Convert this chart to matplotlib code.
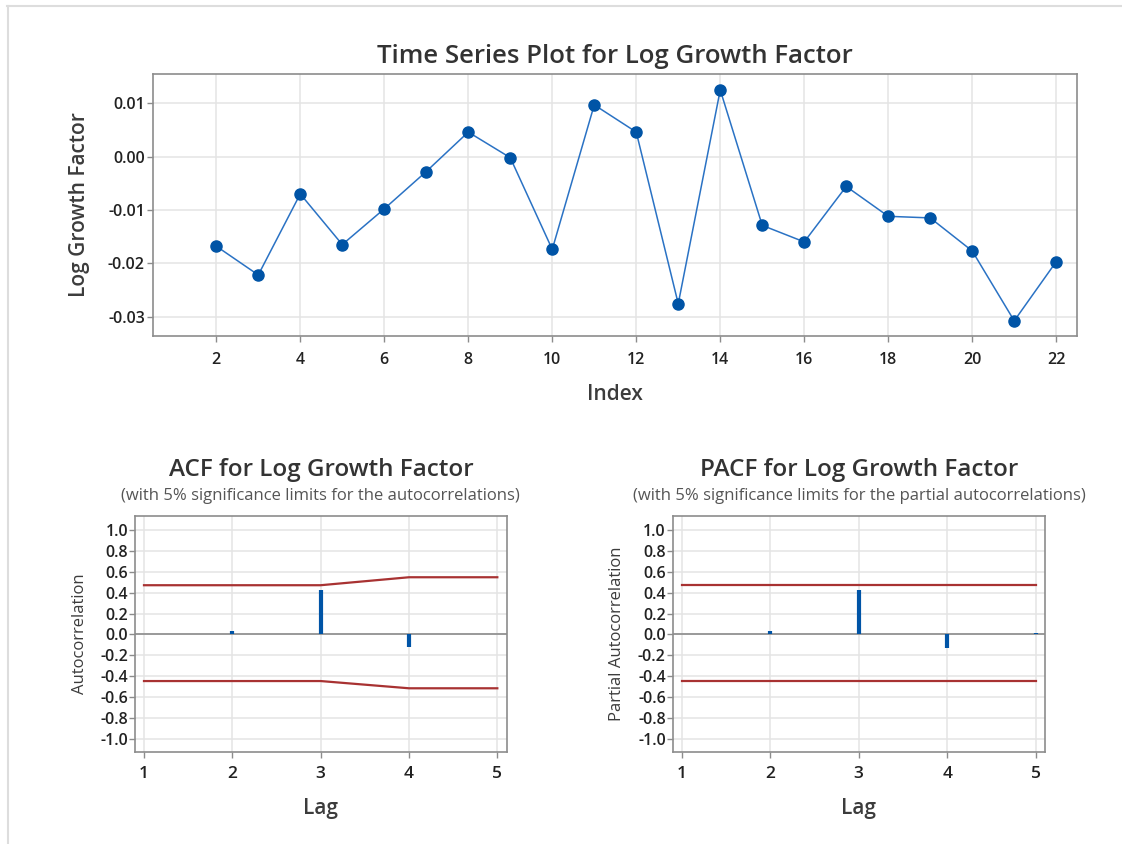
import matplotlib
import matplotlib.pyplot as plt
from matplotlib.lines import Line2D

matplotlib.use("Agg")

# time series data
index = list(range(2, 23))
log_growth = [-0.0168, -0.0222, -0.0070, -0.0165, -0.0098, -0.0028, 0.0046,
              -0.0002, -0.0174, 0.0097, 0.0046, -0.0276, 0.0125, -0.0129,
              -0.0160, -0.0056, -0.0112, -0.0115, -0.0177, -0.0308, -0.0197]

# autocorrelation data
lags = [1, 2, 3, 4, 5]
acf_vals = [0.0, 0.03, 0.42, -0.12, 0.0]
acf_upper = [0.47, 0.47, 0.47, 0.546, 0.546]
acf_lower = [-0.444, -0.444, -0.444, -0.513, -0.513]
pacf_vals = [0.0, 0.03, 0.42, -0.13, 0.01]
pacf_upper = [0.47, 0.47, 0.47, 0.47, 0.47]
pacf_lower = [-0.444, -0.444, -0.444, -0.444, -0.444]

BLUE = "#0054a6"
LINE_BLUE = "#2a72c4"
RED = "#a83232"
GRID = "#e4e4e4"
SPINE = "#8c8c8c"
TEXT = "#333333"
LABEL = "#3c3c3c"

plt.rcParams["font.family"] = ["Open Sans", "DejaVu Sans"]

fig = plt.figure(figsize=(11.22, 8.44), dpi=100)

# faint frame lines at top and left edge
fig.add_artist(Line2D([7 / 1122, 1121 / 1122], [1 - 5.5 / 844, 1 - 5.5 / 844],
                      color="#dddddd", lw=1.5, transform=fig.transFigure))
fig.add_artist(Line2D([8 / 1122, 8 / 1122], [0, 1 - 5.5 / 844],
                      color="#dddddd", lw=1.5, transform=fig.transFigure))


def style_axes(ax):
    for sp in ax.spines.values():
        sp.set_color(SPINE)
        sp.set_linewidth(1.2)
    ax.grid(True, color=GRID, lw=1.1)
    ax.set_axisbelow(True)
    ax.tick_params(color=SPINE, length=4, width=1, labelcolor="#222222",
                   labelsize=11.5, pad=2)
    for lab in ax.get_xticklabels() + ax.get_yticklabels():
        lab.set_fontweight("semibold")


# top: time series plot
ax = fig.add_axes([0.1366, 0.6022, 0.8235, 0.3098])
ax.plot(index, log_growth, color=LINE_BLUE, lw=1.1, zorder=3)
ax.plot(index, log_growth, "o", color=BLUE, ms=8, zorder=4)
ax.set_xlim(0.5, 22.5)
ax.set_ylim(-0.0336, 0.01544)
ax.set_xticks(range(2, 23, 2))
ax.set_yticks([0.01, 0.0, -0.01, -0.02, -0.03])
ax.set_yticklabels(["0.01", "0.00", "-0.01", "-0.02", "-0.03"])
style_axes(ax)
ax.tick_params(axis="x", pad=8)
ax.set_title("Time Series Plot for Log Growth Factor", fontsize=18.5,
             color=TEXT, pad=8, fontweight="semibold")
ax.set_xlabel("Index", fontsize=15, color=LABEL, labelpad=11,
              fontweight="semibold")
ax.set_ylabel("Log Growth Factor", fontsize=15, color=LABEL, labelpad=13,
              fontweight="semibold")


def corr_panel(rect, vals, upper, lower, title, subtitle, ylabel):
    a = fig.add_axes(rect)
    a.axhline(0, color=SPINE, lw=1.2, zorder=2)
    a.vlines(lags, 0, vals, color=BLUE, lw=3, zorder=3)
    a.plot(lags, upper, color=RED, lw=1.6, zorder=3)
    a.plot(lags, lower, color=RED, lw=1.6, zorder=3)
    a.set_xlim(0.898, 5.106)
    a.set_ylim(-1.124, 1.13)
    a.set_xticks(lags)
    yt = [round(-1.0 + 0.2 * i, 1) for i in range(11)]
    a.set_yticks(yt)
    a.set_yticklabels([f"{v:.1f}" for v in yt])
    style_axes(a)
    a.tick_params(axis="y", labelsize=11.5, pad=1)
    a.tick_params(axis="x", labelsize=12.5, pad=6)
    for lab in a.get_xticklabels() + a.get_yticklabels():
        lab.set_fontweight("semibold")
    a.set_xlabel("Lag", fontsize=15, color=LABEL, labelpad=11,
                 fontweight="semibold")
    a.set_ylabel(ylabel, fontsize=12, color=LABEL, labelpad=9)
    cx = rect[0] + rect[2] / 2
    fig.text(cx, 1 - 470 / 844, title, ha="center", va="center",
             fontsize=17.5, color=TEXT, fontweight="semibold")
    fig.text(cx, 1 - 496 / 844, subtitle, ha="center", va="center",
             fontsize=12, color="#555555")
    return a


corr_panel([0.1203, 0.1086, 0.3313, 0.28], acf_vals, acf_upper, acf_lower,
           "ACF for Log Growth Factor",
           "(with 5% significance limits for the autocorrelations)",
           "Autocorrelation")
corr_panel([0.5996, 0.1086, 0.3318, 0.28], pacf_vals, pacf_upper, pacf_lower,
           "PACF for Log Growth Factor",
           "(with 5% significance limits for the partial autocorrelations)",
           "Partial Autocorrelation")

fig.savefig("out.png", dpi=100)
plt.close(fig)
